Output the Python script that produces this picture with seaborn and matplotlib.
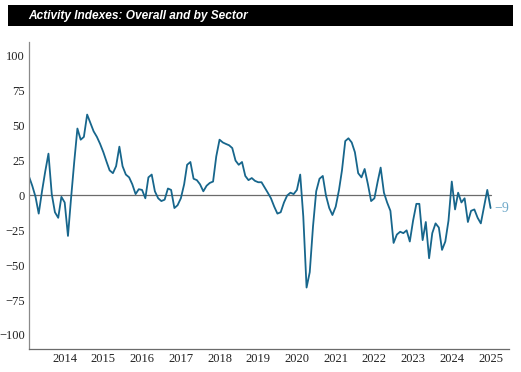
import pandas as pd
import numpy as np
import matplotlib
matplotlib.use("Agg")
import matplotlib.pyplot as plt
import matplotlib.dates as mdates
from matplotlib.patches import Rectangle
import seaborn as sns

# monthly overall activity index, Feb 2013 - Jan 2025
start_month = "2013-02-01"
activity = [
    13, 7, -1, -13, 3, 17, 30, 1, -12, -16, -1, -5,
    -29, -3, 24, 48, 40, 42, 58, 52, 46, 42, 37, 31,
    24, 18, 16, 21, 35, 21, 15, 13, 8, 1, 4.5, 4,
    -2, 13, 15, 3, -2, -4, -3, 5, 4, -9, -7, -2,
    8, 22, 24, 12, 11, 8, 3, 7, 9, 10, 28, 40,
    38, 37, 36, 34, 25, 22, 24, 14, 11, 12.5, 10.5, 9.5,
    9.5, 6, 2, -2, -8, -13, -12, -5, 0, 2, 1, 4,
    15, -15, -66, -55, -22, 3, 12, 14, 0, -9, -14, -8,
    4, 18, 39, 41, 38, 31, 16, 13, 19, 8, -4, -2,
    10, 20, 2, -5, -11, -34, -28, -26, -27, -25, -33, -18,
    -6, -6, -32, -19, -45, -27, -20, -23, -39, -33, -18, 10,
    -10, 2, -5, -2, -19, -11, -10, -16, -20, -8, 4, -9,
]
title = "Activity Indexes: Overall and by Sector"
y_ticks = [-100, -75, -50, -25, 0, 25, 50, 75, 100]
line_color = "#17668c"
label_color = "#6fa9c9"

df = pd.DataFrame({
    "date": pd.date_range(start_month, periods=len(activity), freq="MS"),
    "value": activity,
})

sns.set_style("white")
plt.rcParams["font.family"] = ["Liberation Serif", "DejaVu Serif"]

fig = plt.figure(figsize=(5.21, 3.72), dpi=100)
ax = fig.add_axes([0.0562, 0.062, 0.921, 0.825])

# title bar
fig.patches.append(Rectangle((8 / 521, 1 - 26 / 372), 505 / 521, 21 / 372,
                             transform=fig.transFigure, facecolor="black",
                             edgecolor="none", zorder=0))
fig.text(28 / 521, 1 - 15.5 / 372, title, color="white", fontsize=8.6,
         fontweight="bold", fontstyle="italic", family="Liberation Sans",
         va="center", ha="left")

# zero line up to the last observation
ax.plot([df["date"].iloc[0], df["date"].iloc[-1]], [0, 0],
        color="#6b6b6b", lw=0.9, zorder=1)
sns.lineplot(data=df, x="date", y="value", ax=ax, color=line_color,
             lw=1.3, zorder=2)

last = df.iloc[-1]
ax.annotate(f"{int(last['value'])}".replace("-", "\u2212"),
            xy=(last["date"], last["value"]), xytext=(3, 0),
            textcoords="offset points", va="center", ha="left",
            color=label_color, fontsize=10)

ax.set_ylim(-110, 110)
ax.set_xlim(df["date"].iloc[0], pd.Timestamp("2025-06-25"))
ax.set_yticks(y_ticks)
ax.set_yticklabels([str(t).replace("-", "\u2212") for t in y_ticks])
ax.xaxis.set_major_locator(mdates.YearLocator())
ax.xaxis.set_major_formatter(mdates.DateFormatter("%Y"))
ax.xaxis.set_minor_locator(mdates.MonthLocator(bymonth=[4, 7, 10]))
ax.set_xlabel("")
ax.set_ylabel("")

ax.tick_params(axis="both", which="major", direction="in", length=5,
               width=1.2, color="#c8c8c8", labelsize=9, labelcolor="#222222")
ax.tick_params(axis="x", which="minor", direction="in", length=3.5,
               width=0.8, color="#555555")
ax.tick_params(axis="x", which="major", pad=3)
ax.tick_params(axis="y", which="major", pad=3)

for side in ["top", "right"]:
    ax.spines[side].set_visible(False)
ax.spines["left"].set_color("#8a8a8a")
ax.spines["bottom"].set_color("#6b6b6b")
ax.spines["left"].set_linewidth(0.9)
ax.spines["bottom"].set_linewidth(0.9)

fig.savefig("out.png", dpi=100, facecolor="white")
